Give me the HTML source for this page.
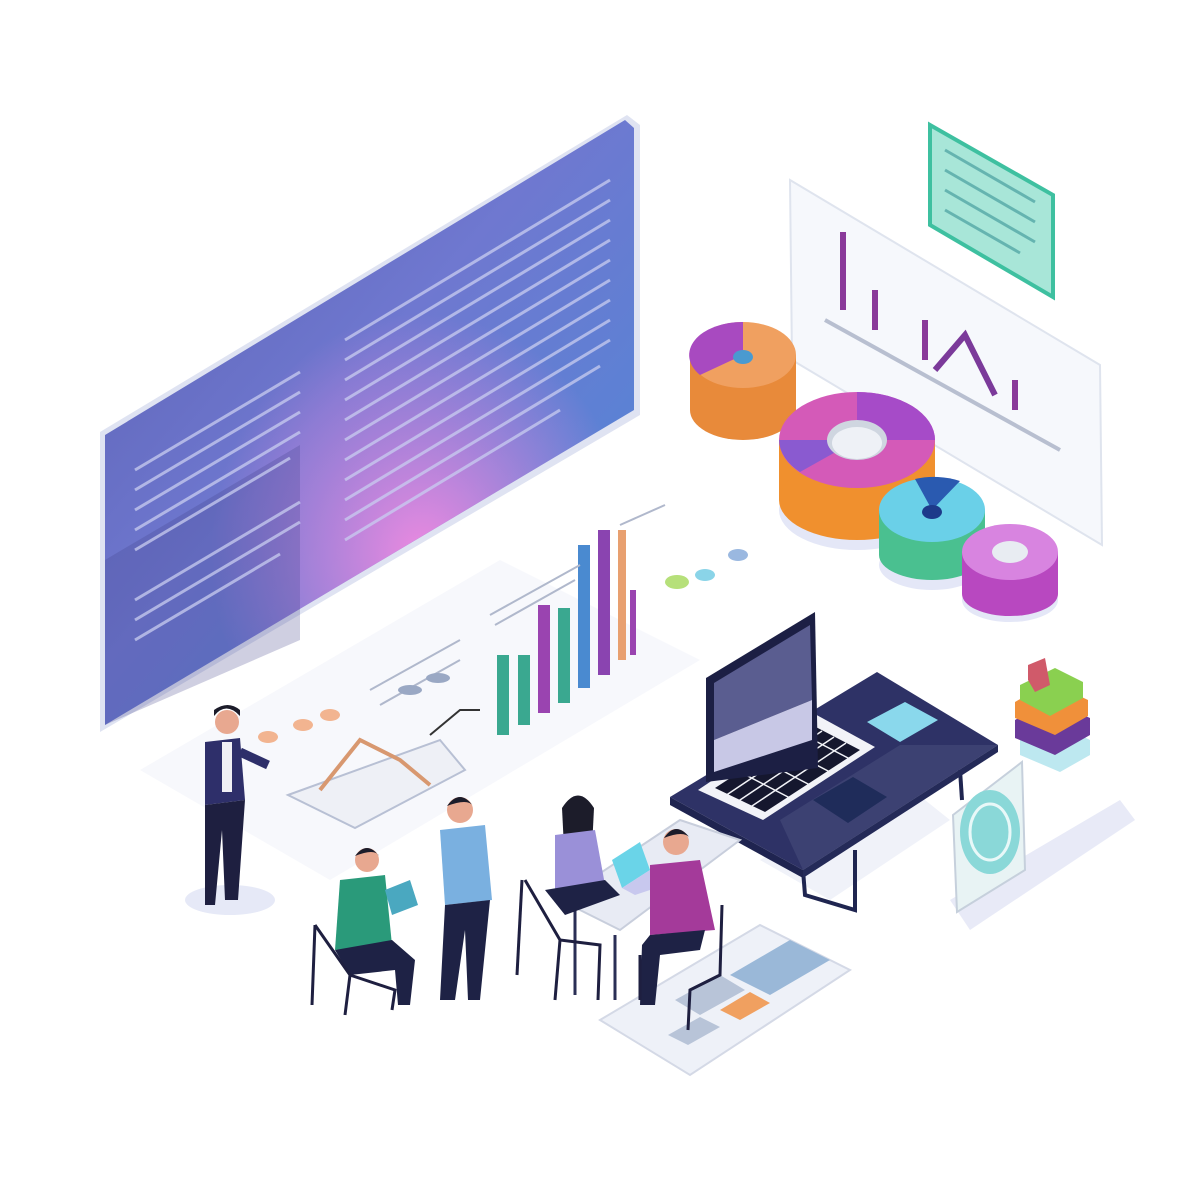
<!DOCTYPE html>
<html><head><meta charset="utf-8"><style>html,body{margin:0;background:#fff}svg{display:block}</style></head>
<body>
<svg width="1200" height="1200" viewBox="0 0 1200 1200" xmlns="http://www.w3.org/2000/svg">
<defs>
<linearGradient id="scr" x1="0" y1="0" x2="1" y2="1">
<stop offset="0" stop-color="#5a5fb0"/><stop offset="0.45" stop-color="#6f78d0"/><stop offset="1" stop-color="#4a8ad8"/>
</linearGradient>
<radialGradient id="pink" cx="0.6" cy="0.72" r="0.4"><stop offset="0" stop-color="#ec8ae0"/><stop offset="1" stop-color="#e886e0" stop-opacity="0"/></radialGradient>
</defs>
<!-- floor shadows -->
<polygon points="140,770 500,560 700,660 330,880" fill="#f7f8fc"/>
<polygon points="950,900 1120,800 1135,820 970,930" fill="#e8eaf7"/>
<!-- big screen -->
<polygon points="100,432 627,115 640,125 640,415 100,732" fill="#dfe3f2"/>
<polygon points="105,435 625,120 634,128 634,410 105,725" fill="url(#scr)"/>
<polygon points="105,435 625,120 634,128 634,410 105,725" fill="url(#pink)"/>
<polygon points="105,560 300,445 300,640 105,725" fill="#3e3f86" opacity="0.25"/>
<g stroke="#c9cdf0" stroke-width="3" opacity="0.75">
<line x1="135" y1="470" x2="300" y2="372"/><line x1="135" y1="490" x2="300" y2="392"/><line x1="135" y1="510" x2="300" y2="412"/><line x1="135" y1="530" x2="300" y2="432"/><line x1="135" y1="550" x2="290" y2="458"/><line x1="135" y1="600" x2="300" y2="502"/><line x1="135" y1="620" x2="300" y2="522"/><line x1="135" y1="640" x2="280" y2="554"/>
<line x1="345" y1="340" x2="610" y2="180"/><line x1="345" y1="360" x2="610" y2="200"/><line x1="345" y1="380" x2="610" y2="220"/><line x1="345" y1="400" x2="610" y2="240"/><line x1="345" y1="420" x2="610" y2="260"/><line x1="345" y1="440" x2="610" y2="280"/><line x1="345" y1="460" x2="610" y2="300"/><line x1="345" y1="480" x2="610" y2="320"/><line x1="345" y1="500" x2="610" y2="340"/><line x1="345" y1="520" x2="600" y2="366"/><line x1="345" y1="540" x2="560" y2="410"/>
</g>
<!-- right chart panel -->
<polygon points="790,180 1100,365 1102,545 792,360" fill="#f6f8fc" stroke="#dfe4ee" stroke-width="2"/>
<g fill="#8a3a9a"><rect x="840" y="232" width="6" height="78"/><rect x="872" y="290" width="6" height="40"/><rect x="922" y="320" width="6" height="40"/><rect x="1012" y="380" width="6" height="30"/></g>
<polyline points="935,370 965,335 995,395" fill="none" stroke="#7b3a9a" stroke-width="6"/>
<line x1="825" y1="320" x2="1060" y2="450" stroke="#b8bfd0" stroke-width="4"/>
<!-- green card -->
<polygon points="930,125 1053,195 1053,297 930,225" fill="#a8e6d8" stroke="#3ec0a0" stroke-width="4"/>
<g stroke="#4aa0a0" stroke-width="3" opacity="0.7"><line x1="945" y1="150" x2="1035" y2="202"/><line x1="945" y1="170" x2="1035" y2="222"/><line x1="945" y1="190" x2="1035" y2="242"/><line x1="945" y1="210" x2="1020" y2="253"/></g>
<!-- donuts -->
<ellipse cx="743" cy="410" rx="53" ry="30" fill="#e4e7f7"/>
<rect x="690" y="355" width="106" height="55" fill="#e88a3a"/><ellipse cx="743" cy="410" rx="53" ry="30" fill="#e88a3a"/>
<ellipse cx="743" cy="355" rx="53" ry="33" fill="#f0a060"/><path d="M743,355 L743,322 A53,33 0 0,0 700,375 Z" fill="#a84ac0"/><ellipse cx="743" cy="357" rx="10" ry="7" fill="#4a9ad0"/>
<ellipse cx="857" cy="510" rx="78" ry="40" fill="#e4e7f7"/>
<rect x="779" y="440" width="156" height="60" fill="#f0902e"/><ellipse cx="857" cy="500" rx="78" ry="40" fill="#f0902e"/>
<ellipse cx="857" cy="440" rx="78" ry="48" fill="#d45ab8"/><path d="M857,440 L935,440 A78,48 0 0,0 857,392 Z" fill="#a64bc8"/><path d="M857,440 L800,472 A78,48 0 0,1 779,440 Z" fill="#8a5ad0"/>
<ellipse cx="857" cy="440" rx="30" ry="20" fill="#cfd6e0"/><ellipse cx="857" cy="443" rx="25" ry="16" fill="#eef1f6"/>
<ellipse cx="932" cy="565" rx="53" ry="25" fill="#e4e7f7"/>
<rect x="879" y="510" width="106" height="45" fill="#4ac090"/><ellipse cx="932" cy="555" rx="53" ry="25" fill="#4ac090"/>
<ellipse cx="932" cy="510" rx="53" ry="32" fill="#6ad0e8"/><path d="M932,510 L915,479 A53,32 0 0,1 960,481 Z" fill="#2a5ab0"/><ellipse cx="932" cy="512" rx="10" ry="7" fill="#1d3a8a"/>
<ellipse cx="1010" cy="600" rx="48" ry="22" fill="#e4e7f7"/>
<rect x="962" y="552" width="96" height="42" fill="#b848c0"/><ellipse cx="1010" cy="594" rx="48" ry="22" fill="#b848c0"/>
<ellipse cx="1010" cy="552" rx="48" ry="28" fill="#d884e0"/><ellipse cx="1010" cy="552" rx="18" ry="11" fill="#e8ecf2"/>
<!-- bar charts -->
<g>
<rect x="497" y="655" width="12" height="80" fill="#3aa890"/><rect x="518" y="655" width="12" height="70" fill="#3aa890"/>
<rect x="538" y="605" width="12" height="108" fill="#9a44b0"/><rect x="558" y="608" width="12" height="95" fill="#3aa890"/>
<rect x="578" y="545" width="12" height="143" fill="#4a8ad0"/><rect x="598" y="530" width="12" height="145" fill="#8a44b0"/>
<rect x="618" y="530" width="8" height="130" fill="#e8a070"/><rect x="630" y="590" width="6" height="65" fill="#9a44b0"/>
</g>
<g stroke="#b0b8cc" stroke-width="2"><line x1="490" y1="615" x2="580" y2="565"/><line x1="495" y1="625" x2="575" y2="580"/><line x1="620" y1="525" x2="665" y2="505"/><line x1="370" y1="690" x2="460" y2="640"/><line x1="380" y1="705" x2="460" y2="660"/></g>
<ellipse cx="677" cy="582" rx="12" ry="7" fill="#b6e07a"/><ellipse cx="705" cy="575" rx="10" ry="6" fill="#8ad4e8"/><ellipse cx="738" cy="555" rx="10" ry="6" fill="#9ab8e0"/>
<ellipse cx="438" cy="678" rx="12" ry="5" fill="#9aa8c4"/><ellipse cx="410" cy="690" rx="12" ry="5" fill="#9aa8c4"/>
<polyline points="430,735 460,710 480,710" fill="none" stroke="#333" stroke-width="2"/>
<!-- left doc with charts -->
<polygon points="288,795 440,740 465,770 355,828" fill="#eef0f6" stroke="#b8c0d4" stroke-width="2"/>
<polyline points="320,790 360,740 400,760 430,785" fill="none" stroke="#d89870" stroke-width="4"/>
<ellipse cx="268" cy="737" rx="10" ry="6" fill="#f2b490"/><ellipse cx="303" cy="725" rx="10" ry="6" fill="#f2b490"/><ellipse cx="330" cy="715" rx="10" ry="6" fill="#f2b490"/>
<!-- stacked blocks -->
<polygon points="1020,740 1050,720 1090,740 1090,755 1060,772 1020,755" fill="#bde8f0"/>
<polygon points="1015,720 1050,700 1090,718 1090,735 1055,755 1015,738" fill="#6a3a9a"/>
<polygon points="1015,702 1050,682 1088,700 1088,716 1055,735 1015,718" fill="#f0903a"/>
<polygon points="1020,685 1055,668 1083,682 1083,698 1050,716 1020,700" fill="#8ad050"/>
<polygon points="1028,665 1045,658 1050,685 1035,692 1028,680" fill="#d05a6a"/>
<!-- tablet -->
<polygon points="953,815 1022,762 1025,870 957,912" fill="#e8f3f4" stroke="#c6d0dc" stroke-width="2"/>
<ellipse cx="990" cy="832" rx="30" ry="42" fill="#8ad8d8"/><ellipse cx="990" cy="832" rx="20" ry="28" fill="none" stroke="#e8f8f8" stroke-width="3"/>
<!-- desk -->
<polygon points="760,860 900,780 950,820 830,900" fill="#f0f2f9"/>
<g stroke="#1f2550" stroke-width="4" fill="none"><polyline points="803,870 805,895 855,910 855,850"/><line x1="960" y1="770" x2="962" y2="800"/></g>
<polygon points="670,797 877,672 998,745 803,870" fill="#2e3266"/>
<polygon points="780,820 900,745 998,745 803,870" fill="#4a4f7e" opacity="0.5"/>
<polygon points="670,797 803,870 803,878 670,805" fill="#1f2450"/>
<polygon points="803,870 998,745 998,752 803,878" fill="#242a58"/>
<!-- keyboard deck -->
<polygon points="698,790 813,713 875,747 763,820" fill="#f2f3f8"/>
<polygon points="715,788 812,725 860,750 765,812" fill="#15172e"/>
<g stroke="#f2f3f8" stroke-width="1.5"><line x1="725" y1="796" x2="822" y2="731"/><line x1="737" y1="802" x2="834" y2="737"/><line x1="749" y1="808" x2="846" y2="743"/><line x1="740" y1="772" x2="790" y2="798"/><line x1="760" y1="759" x2="810" y2="785"/><line x1="780" y1="746" x2="830" y2="772"/><line x1="800" y1="733" x2="850" y2="759"/></g>
<polygon points="813,800 853,777 887,797 848,823" fill="#1f2c5a"/>
<polygon points="867,722 905,702 938,720 900,742" fill="#8ad8ec"/>
<!-- laptop screen -->
<polygon points="706,678 815,612 818,768 706,782" fill="#1c1f44"/>
<polygon points="714,683 810,625 812,700 714,740" fill="#5a5d90"/>
<polygon points="714,740 812,700 812,740 714,772" fill="#c8c8e6"/>
<!-- table with people -->
<polygon points="560,900 680,820 740,840 620,930" fill="#e8ebf4" stroke="#c8cedc" stroke-width="2"/>
<g stroke="#2a2e55" stroke-width="3"><line x1="575" y1="910" x2="575" y2="995"/><line x1="615" y1="935" x2="615" y2="1000"/></g>
<polygon points="612,860 640,842 650,870 622,888" fill="#6ad4e8"/>
<polygon points="622,888 650,870 665,885 635,895" fill="#c8c8ee"/>
<!-- floor document -->
<polygon points="600,1020 760,925 850,970 690,1075" fill="#eef1f8" stroke="#d4d9e6" stroke-width="2"/>
<polygon points="730,975 790,940 830,960 770,995" fill="#9ab8d8"/>
<polygon points="675,1000 720,975 745,990 700,1015" fill="#b8c4d8"/>
<polygon points="720,1010 750,992 770,1003 740,1020" fill="#f0a060"/>
<polygon points="668,1035 700,1017 720,1027 688,1045" fill="#b8c4d8"/>
<!-- people -->
<ellipse cx="230" cy="900" rx="45" ry="15" fill="#e6e9f7"/>
<circle cx="227" cy="722" r="12" fill="#e8a890"/><path d="M214,716 q12,-15 26,0 l0,-6 q-12,-10 -26,0z" fill="#1c1c2a"/>
<path d="M205,742 L240,738 L245,800 L205,805 Z" fill="#2e2f6a"/><rect x="222" y="742" width="10" height="50" fill="#f0f0f5"/>
<path d="M240,752 L268,765" stroke="#2e2f6a" stroke-width="9"/>
<path d="M205,805 L245,800 L238,900 L225,900 L222,830 L215,905 L205,905 Z" fill="#1e1f40"/>
<circle cx="460" cy="810" r="13" fill="#e8a890"/><path d="M447,806 q13,-18 26,0 q-5,-8 -26,0z" fill="#1c1c2a"/>
<path d="M440,830 L485,825 L492,900 L445,905 Z" fill="#7ab0e0"/>
<path d="M445,905 L490,900 L480,1000 L468,1000 L465,930 L455,1000 L440,1000 Z" fill="#1e2245"/>
<circle cx="367" cy="860" r="12" fill="#e8a890"/><path d="M355,856 q12,-16 24,0 q-4,-8 -24,0z" fill="#1c1c2a"/>
<path d="M340,880 L385,875 L392,945 L335,950 Z" fill="#2a9a7a"/>
<path d="M335,950 L392,940 L415,960 L410,1005 L398,1005 L395,970 L350,975 Z" fill="#1e2245"/>
<polygon points="385,890 410,880 418,905 392,915" fill="#4aa8c0"/>
<g stroke="#1e1f40" stroke-width="3" fill="none"><polyline points="315,925 312,1005"/><polyline points="315,925 350,975 395,990 392,1010"/><line x1="350" y1="975" x2="345" y2="1015"/></g>
<circle cx="578" cy="812" r="13" fill="#c08060"/><path d="M562,808 q16,-25 32,0 l-2,40 l-28,0z" fill="#1c1c2a"/>
<path d="M555,835 L595,830 L605,885 L555,890 Z" fill="#9a90d8"/>
<path d="M545,890 L605,880 L620,895 L565,915 Z" fill="#1e2245"/>
<g stroke="#1e1f40" stroke-width="3" fill="none"><polyline points="522,880 517,975"/><polyline points="525,880 560,940 600,945 598,1000"/><line x1="560" y1="940" x2="555" y2="1000"/></g>
<circle cx="676" cy="842" r="13" fill="#e8a890"/><path d="M664,838 q12,-18 26,0 q-6,-8 -26,0z" fill="#1c1c2a"/>
<path d="M650,865 L700,860 L715,930 L650,935 Z" fill="#a43a9a"/>
<path d="M650,935 L705,930 L700,950 L660,955 L655,1005 L640,1005 L642,945 Z" fill="#1e2245"/>
<g stroke="#1e1f40" stroke-width="3" fill="none"><polyline points="722,905 720,975 690,990 688,1030"/><line x1="640" y1="955" x2="640" y2="1000"/></g>
</svg>
</body></html>
